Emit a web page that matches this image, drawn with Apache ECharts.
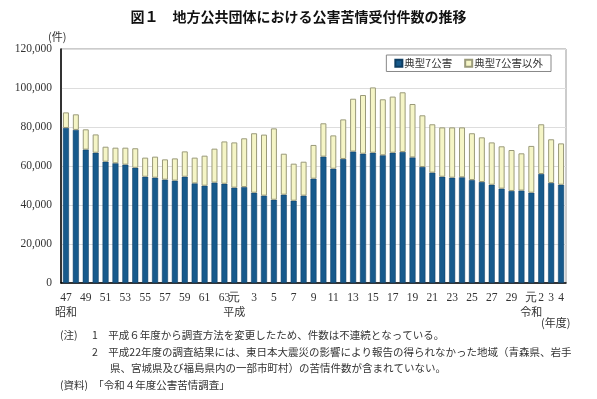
<!DOCTYPE html>
<html>
<head>
<meta charset="utf-8">
<script src="https://cdn.jsdelivr.net/npm/echarts@6/dist/echarts.min.js"></script>
<style>
html,body{margin:0;padding:0;background:#fff;}
#chart{width:597px;height:399px;}
</style>
</head>
<body>
<div id="chart"></div>
<script>
// 年度（昭和47〜63、平成元〜30、令和元〜4）
var years = ['47','48','49','50','51','52','53','54','55','56','57','58','59','60','61','62','63',
  '元','2','3','4','5','6','7','8','9','10','11','12','13','14','15','16','17','18','19','20',
  '21','22','23','24','25','26','27','28','29','30',
  '元','2','3','4'];
// 典型7公害
var typical = [79500,78500,68400,66800,62200,61400,60700,59100,54500,54000,53000,52500,54500,51100,49900,51500,50900,
  48900,49200,46300,44800,42700,45300,42200,44800,53500,64800,
  58600,63600,67400,66300,66800,65500,66800,67200,64400,59500,
  56600,54500,54000,54200,52800,51800,50400,48400,47200,47400,
  46300,55900,51300,50400];
// 典型7公害以外
var others = [8000,8000,10400,9400,7700,8000,8700,10000,9800,10800,10400,11400,13000,13200,15400,17400,21700,
  23200,25000,30500,31300,36600,21000,19000,17400,17300,17100,
  17100,20300,27100,30100,33500,28700,28800,30600,27400,26500,
  24800,25300,25800,25600,24000,22900,21700,21700,21000,19100,
  24000,25500,22400,21200];
var yTicks = [0,20000,40000,60000,80000,100000,120000];
// 元号の表示位置
var eraAt = {0:'昭和', 17:'平成', 47:'令和'};

var serif = 'Liberation Serif';
var jp = 'Noto Sans CJK JP';

var chart = echarts.init(document.getElementById('chart'));

function showLabel(i){
  if(i<=16) return i%2===0;
  if(i<=47) return i%2===1;
  return true;
}

var option = {
  animation:false,
  title:{
    text:'図１　地方公共団体における公害苦情受付件数の推移',
    left:'center', top:5,
    textStyle:{fontFamily:jp, fontSize:14, fontWeight:'bold', color:'#111'}
  },
  legend:{
    right:46, top:55,
    orient:'horizontal',
    itemWidth:7, itemHeight:7, itemGap:12,
    padding:[3,8,3,8],
    borderColor:'#888', borderWidth:1,
    textStyle:{fontFamily:jp, fontSize:10.5, color:'#333', padding:[0,0,0,-3]},
    data:[
      {name:'典型7公害', icon:'rect'},
      {name:'典型7公害以外', icon:'rect'}
    ]
  },
  grid:{
    left:61, right:31, top:49, bottom:116,
    show:true, borderColor:'#999', borderWidth:1
  },
  xAxis:{
    type:'category',
    data:years,
    axisLine:{lineStyle:{color:'#000', width:1.5}},
    axisTick:{show:false},
    axisLabel:{
      interval:function(i){ return showLabel(i); },
      fontFamily:serif, fontSize:11.5, color:'#333', margin:8, lineHeight:14,
      formatter:function(v, i){
        return eraAt[i] ? v + '\n' + '{era|' + eraAt[i] + '}' : v;
      },
      rich:{ era:{fontFamily:jp, fontSize:11, color:'#333', lineHeight:14} }
    }
  },
  yAxis:{
    type:'value',
    min:0, max:120000, interval:20000,
    axisLine:{show:true, lineStyle:{color:'#000', width:1.5}},
    axisTick:{show:false},
    splitLine:{lineStyle:{color:'#ddd', width:1}},
    axisLabel:{
      fontFamily:serif, fontSize:11.5, color:'#333', margin:9,
      formatter:function(v){ return yTicks.indexOf(v) >= 0 ? v.toLocaleString('en-US') : ''; }
    }
  },
  series:[
    {
      name:'典型7公害', type:'bar', stack:'all', barWidth:6,
      itemStyle:{color:'#175a8c', borderColor:'#0e3d62', borderWidth:0.5},
      data:typical
    },
    {
      name:'典型7公害以外', type:'bar', stack:'all', barWidth:6,
      itemStyle:{color:'#f5f5c6', borderColor:'#9a9a7a', borderWidth:1},
      data:others
    }
  ],
  graphic:[
    {type:'text', left:48, top:31, style:{text:'(件)', font:'11px ' + jp, fill:'#333'}},
    {type:'text', left:541, top:317, style:{text:'(年度)', font:'11px ' + jp, fill:'#333'}},
    {type:'text', left:60, top:330, style:{text:'(注)', font:'10.5px ' + jp, fill:'#333'}},
    {type:'text', left:92, top:330, style:{text:'1　平成６年度から調査方法を変更したため、件数は不連続となっている。', font:'10.5px ' + jp, fill:'#333'}},
    {type:'text', left:92, top:347, style:{text:'2　平成22年度の調査結果には、東日本大震災の影響により報告の得られなかった地域（青森県、岩手', font:'10.5px ' + jp, fill:'#333'}},
    {type:'text', left:110, top:363, style:{text:'県、宮城県及び福島県内の一部市町村）の苦情件数が含まれていない。', font:'10.5px ' + jp, fill:'#333'}},
    {type:'text', left:60, top:380, style:{text:'(資料)　「令和４年度公害苦情調査」', font:'10.5px ' + jp, fill:'#333'}}
  ]
};

chart.setOption(option);
</script>
</body>
</html>
